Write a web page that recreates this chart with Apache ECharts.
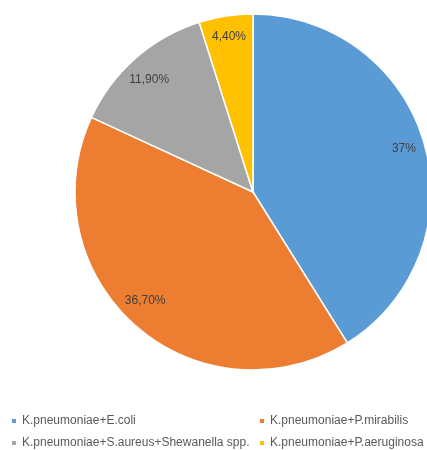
<!DOCTYPE html>
<html>
<head>
<meta charset="utf-8">
<script src="https://cdn.jsdelivr.net/npm/echarts@6/dist/echarts.min.js"></script>
<style>
  html, body { margin: 0; padding: 0; background: #fff; }
  #chart { width: 427px; height: 450px; }
</style>
</head>
<body>
<div id="chart"></div>
<script>
// Co-infection combinations and their shares
const categories = [
  'K.pneumoniae+E.coli',
  'K.pneumoniae+P.mirabilis',
  'K.pneumoniae+S.aureus+Shewanella spp.',
  'K.pneumoniae+P.aeruginosa'
];
const values = [37, 36.7, 11.9, 4.4];
const valueLabels = ['37%', '36,70%', '11,90%', '4,40%'];
const colors = ['#5B9BD5', '#ED7D31', '#A5A5A5', '#FFC000'];

const center = [253, 192];
const radius = 178;
const font = 'Liberation Sans, Arial, sans-serif';

// Small nudges for labels that sit slightly off the slice's middle direction
const labelNudge = { 1: [-4, -9], 2: [0, 5] };

const sliceData = categories.map((name, i) => ({
  name, value: values[i], itemStyle: { color: colors[i] }
}));
const labelData = categories.map((name, i) => ({
  name, value: values[i],
  label: { formatter: valueLabels[i], offset: labelNudge[i] || [0, 0] }
}));

const legendBase = {
  orient: 'vertical', top: 415, padding: 0, height: 35,
  icon: 'rect', itemWidth: 6, itemHeight: 6, itemGap: 10,
  textStyle: { color: '#595959', fontSize: 12, fontFamily: font }
};

const chart = echarts.init(document.getElementById('chart'), null, { renderer: 'canvas' });
chart.setOption({
  animation: false,
  backgroundColor: '#ffffff',
  legend: [
    Object.assign({}, legendBase, { left: 10, data: [categories[0], categories[2]] }),
    Object.assign({}, legendBase, { left: 258, data: [categories[1], categories[3]] })
  ],
  series: [
    {
      name: 'slices', type: 'pie',
      center, radius: [0, radius],
      startAngle: 90, clockwise: true,
      itemStyle: { borderColor: '#ffffff', borderWidth: 1.5 },
      label: { show: false }, labelLine: { show: false },
      emphasis: { disabled: true },
      data: sliceData
    },
    {
      name: 'labels', type: 'pie',
      center, radius: [130, radius],
      startAngle: 90, clockwise: true, silent: true,
      itemStyle: { color: 'transparent' },
      label: { show: true, position: 'inside', color: '#404040', fontSize: 12, fontFamily: font },
      labelLine: { show: false },
      emphasis: { disabled: true },
      legendHoverLink: false,
      data: labelData
    }
  ]
});
</script>
</body>
</html>
